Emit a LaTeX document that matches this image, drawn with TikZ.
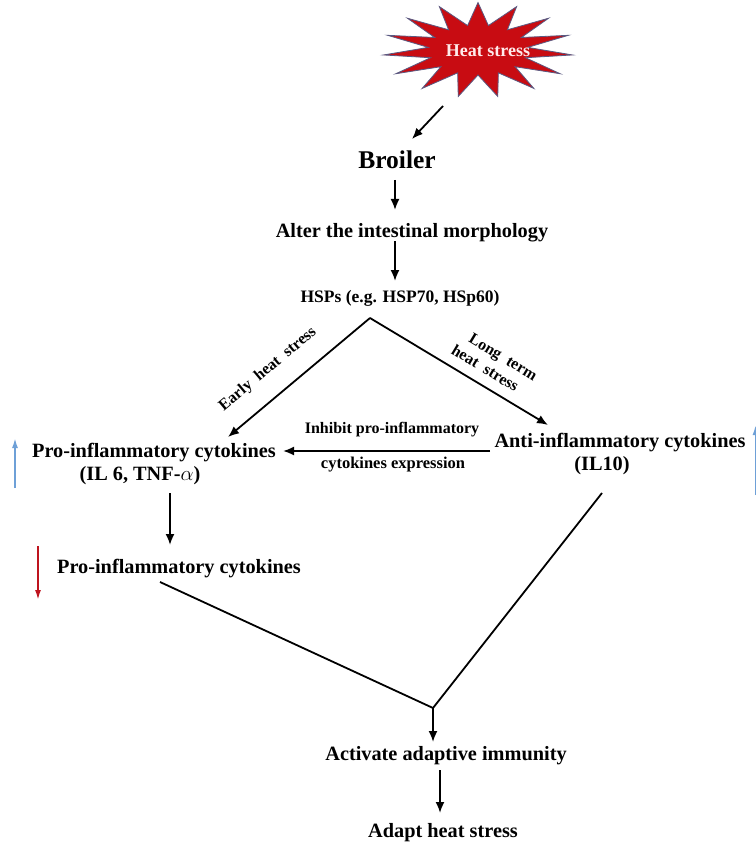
\documentclass[tikz,border=0pt]{standalone}
\usepackage{fontspec}
\setmainfont{Liberation Serif}
\usetikzlibrary{arrows.meta,shapes.geometric}

\definecolor{burstred}{RGB}{200,12,18}
\definecolor{burstedge}{RGB}{90,90,130}
\definecolor{upblue}{RGB}{110,160,215}
\definecolor{downred}{RGB}{190,20,30}

\tikzset{
  lbl/.style={font=\bfseries\fontsize{20.3}{22}\selectfont, inner sep=0pt, anchor=base},
  note/.style={font=\bfseries\fontsize{16}{19}\selectfont, inner sep=1pt, align=center},
  flow/.style={-{Latex[length=11pt,width=9pt]}, line width=1.8pt},
  link/.style={line width=1.8pt},
  mark arrow/.style={-{Latex[length=10pt,width=6pt]}, line width=1.8pt},
}

\begin{document}
\begin{tikzpicture}[x=1pt, y=-1pt]
\useasboundingbox (0,0) rectangle (755,842);

% heat stress burst
\node[star, star points=15, star point ratio=1.9, minimum size=95, inner sep=0pt,
      xscale=2, fill=burstred, draw=burstedge, line width=0.8pt] (burst) at (478,50) {};
\node[lbl, font=\bfseries\fontsize{18}{20}\selectfont, text=white!92!red] (heat) at (488,57) {Heat stress};

% main chain
\node[lbl, font=\bfseries\fontsize{25.5}{28}\selectfont] (broiler) at (397,169) {Broiler};
\node[lbl] (alter) at (412,237) {Alter the intestinal morphology};
\node[lbl, font=\bfseries\fontsize{17.5}{19}\selectfont] (hsps) at (400,302) {HSPs (e.g. HSP70, HSp60)};

% cytokines
\node[lbl] (pro) at (154,457) {Pro-inflammatory cytokines};
\node[lbl] (proil) at (140,480) {(IL 6, TNF-$\alpha$)};
\node[lbl] (anti) at (620,447) {Anti-inflammatory cytokines};
\node[lbl] (antiil) at (602,470) {(IL10)};
\node[lbl, font=\bfseries\fontsize{16}{18}\selectfont] (inhA) at (392,433) {Inhibit pro-inflammatory};
\node[lbl, font=\bfseries\fontsize{16.5}{18}\selectfont] (inhB) at (393,468) {cytokines expression};
\node[lbl] (prodown) at (179,573) {Pro-inflammatory cytokines};

% outcome
\node[lbl] (activate) at (446,760) {Activate adaptive immunity};
\node[lbl] (adapt) at (443,837) {Adapt heat stress};

\coordinate (apex) at ([shift={(-30,16)}]hsps.base);
\coordinate (meet) at (433,708);

\draw[flow] ([shift={(-35,56)}]burst.center) -- ([shift={(15,-30)}]broiler.base);
\draw[flow] ([shift={(-2,11)}]broiler.base) -- ([shift={(-17,-27)}]alter.base);
\draw[flow] ([shift={(-17,4)}]alter.base) -- ([shift={(-5,-21)}]hsps.base);

\draw[flow] (apex) -- node[note, sloped, pos=0.6, above=17pt] (early)
    {Early\hspace{0.5em}heat\hspace{0.5em}stress}
    ([shift={(74,-20)}]pro.base);
\draw[flow] (apex) -- node[note, sloped, pos=0.6, above=9pt] (longterm)
    {\hspace{1.2em}Long\hspace{0.5em}term\\heat\hspace{0.5em}stress}
    ([shift={(-72,-22)}]anti.base);

\draw[flow] ([shift={(-130,4)}]anti.base) -- ([shift={(129,-6)}]pro.base);
\draw[flow] ([shift={(30,13)}]proil.base) -- ([shift={(-9,-28)}]prodown.base);

\draw[link] ([shift={(-19,9)}]prodown.base) -- (meet);
\draw[link] ([shift={(0,23)}]antiil.base) -- (meet);
\draw[flow] (meet) -- ([shift={(-13,-18)}]activate.base);
\draw[flow] ([shift={(-6,10)}]activate.base) -- ([shift={(-3,-24)}]adapt.base);

% up / down markers
\draw[mark arrow, upblue] (15,488) -- (15,438);
\draw[mark arrow, downred] (38,546) -- (38,600);
\draw[mark arrow, upblue] (755.5,495) -- (755.5,425);

\end{tikzpicture}
\end{document}
